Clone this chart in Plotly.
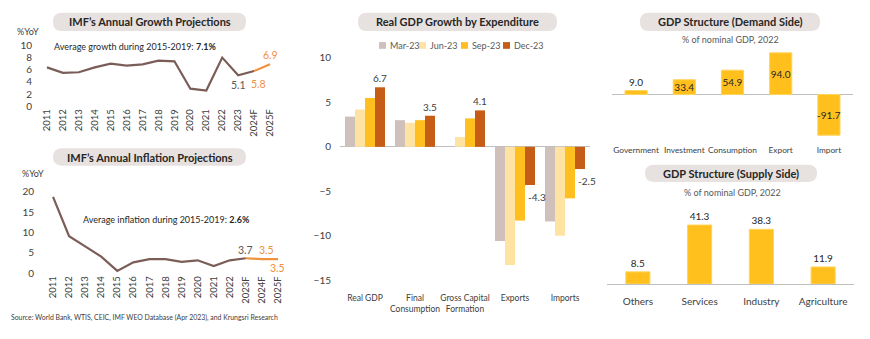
import plotly.graph_objects as go

W, H = 870, 339
FONT = "Lato"

# ---------------- data ----------------
years_g = ["2011", "2012", "2013", "2014", "2015", "2016", "2017", "2018", "2019",
           "2020", "2021", "2022", "2023", "2024F", "2025F"]
growth = [6.4, 5.5, 5.6, 6.4, 7.0, 6.7, 6.9, 7.5, 7.4, 2.9, 2.6, 8.0, 5.1, 5.8, 6.9]

years_i = ["2011", "2012", "2013", "2014", "2015", "2016", "2017", "2018", "2019",
           "2020", "2021", "2022", "2023F", "2024F", "2025F"]
inflation = [18.7, 9.1, 6.6, 4.1, 0.6, 2.7, 3.5, 3.5, 2.8, 3.2, 1.8, 3.2, 3.7, 3.5, 3.5]

exp_cats = ["Real GDP", "Final<br>Consumption", "Gross Capital<br>Formation", "Exports", "Imports"]
quarters = ["Mar-23", "Jun-23", "Sep-23", "Dec-23"]
mar23 = [3.4, 3.0, 0.0, -10.6, -8.4]
jun23 = [4.2, 2.7, 1.1, -13.3, -10.0]
sep23 = [5.5, 3.0, 3.2, -8.3, -5.8]
dec23 = [6.7, 3.5, 4.1, -4.3, -2.5]
q_colors = ["#CFC0BC", "#FFE3A3", "#FFBF1F", "#C65D17"]

demand_cats = ["Government", "Investment", "Consumption", "Export", "Import"]
demand_vals = [9.0, 33.4, 54.9, 94.0, -91.7]

supply_cats = ["Others", "Services", "Industry", "Agriculture"]
supply_vals = [8.5, 41.3, 38.3, 11.9]

BROWN = "#7B5D58"
ORANGE = "#F0913E"
YEL = "#FFC01E"
TXT = "#404040"


def px(x):
    return x / W


def py(y):
    return 1 - y / H


fig = go.Figure()

# ---- growth line ----
fig.add_trace(go.Scatter(x=years_g[:14], y=growth[:14], mode="lines",
                         line=dict(color=BROWN, width=2.2), xaxis="x", yaxis="y",
                         showlegend=False, hoverinfo="skip"))
fig.add_trace(go.Scatter(x=years_g[13:], y=growth[13:], mode="lines",
                         line=dict(color=ORANGE, width=2.2), xaxis="x", yaxis="y",
                         showlegend=False, hoverinfo="skip"))

# ---- inflation line ----
fig.add_trace(go.Scatter(x=years_i[:13], y=inflation[:13], mode="lines",
                         line=dict(color=BROWN, width=2.2), xaxis="x2", yaxis="y2",
                         showlegend=False, hoverinfo="skip"))
fig.add_trace(go.Scatter(x=years_i[12:], y=inflation[12:], mode="lines",
                         line=dict(color=ORANGE, width=2.2), xaxis="x2", yaxis="y2",
                         showlegend=False, hoverinfo="skip"))

# ---- expenditure bars ----
for qi, (name, vals) in enumerate(zip(quarters, [mar23, jun23, sep23, dec23])):
    kw = {}
    if name == "Dec-23":
        kw = dict(text=[f"{v:.1f}" if v > 0 else "" for v in vals],
                  textposition="outside", textangle=0,
                  textfont=dict(size=10, color=TXT, family=FONT),
                  cliponaxis=False, constraintext="none")
    fig.add_trace(go.Bar(x=exp_cats, y=vals, name=name, marker_color=q_colors[qi],
                         marker_line=dict(width=0), xaxis="x3", yaxis="y3",
                         showlegend=False, hoverinfo="skip", **kw))

# ---- demand bars ----
fig.add_trace(go.Bar(x=demand_cats, y=demand_vals, marker_color=YEL,
                     marker_line=dict(color="#FFD45A", width=1),
                     text=[f"{v:.1f}" for v in demand_vals],
                     textposition=["outside", "inside", "inside", "inside", "inside"],
                     insidetextanchor="middle", constraintext="none", cliponaxis=False,
                     textangle=0,
                     textfont=dict(size=10, color="#262626", family=FONT),
                     xaxis="x4", yaxis="y4", showlegend=False, hoverinfo="skip"))

# ---- supply bars ----
fig.add_trace(go.Bar(x=supply_cats, y=supply_vals, marker_color=YEL,
                     marker_line=dict(color="#FFD45A", width=1),
                     text=[f"{v:.1f}" for v in supply_vals], textposition="outside",
                     constraintext="none", cliponaxis=False, textangle=0,
                     textfont=dict(size=10, color="#262626", family=FONT),
                     xaxis="x5", yaxis="y5", showlegend=False, hoverinfo="skip"))

ax_common = dict(showgrid=False, zeroline=False, showline=False, ticks="",
                 tickfont=dict(size=10, color=TXT, family=FONT), fixedrange=True)


def tf(size):
    return dict(size=size, color=TXT, family=FONT)


layout = dict(
    width=W, height=H, margin=dict(l=0, r=0, t=0, b=0),
    paper_bgcolor="white", plot_bgcolor="white",
    font=dict(family=FONT, color=TXT),
    barmode="group",
    xaxis=dict(domain=[px(39), px(278)], anchor="y", type="category", tickangle=-90,
               range=[-0.5, len(years_g) - 0.5], **{**ax_common, "tickfont": tf(9.5)}),
    yaxis=dict(domain=[py(103.3), py(40)], anchor="x", range=[0, 10], dtick=2,
               ticklabelstandoff=6, **ax_common),
    xaxis2=dict(domain=[px(45), px(286)], anchor="y2", type="category", tickangle=-90,
                range=[-0.5, len(years_i) - 0.5], **{**ax_common, "tickfont": tf(9.5)}),
    yaxis2=dict(domain=[py(277), py(192)], anchor="x2", range=[0, 20], dtick=5,
                ticklabelstandoff=10, **ax_common),
    xaxis3=dict(domain=[px(340), px(590)], anchor="y3", type="category", tickangle=0,
                range=[-0.5, len(exp_cats) - 0.5], ticklabelstandoff=11,
                **{**ax_common, "tickfont": tf(8.5)}),
    yaxis3=dict(domain=[py(284), py(53)], anchor="x3", range=[-15, 10], dtick=5,
                ticklabelstandoff=8,
                **{**ax_common, "zeroline": True, "zerolinecolor": "#BFBFBF",
                   "zerolinewidth": 1.3}),
    xaxis4=dict(domain=[px(612), px(853)], anchor="y4", type="category", tickangle=0,
                range=[-0.5, len(demand_cats) - 0.5], ticklabelstandoff=6,
                **{**ax_common, "tickfont": tf(8.3)}),
    yaxis4=dict(domain=[py(136), py(44)], anchor="x4", range=[-97.6, 102],
                showticklabels=False,
                **{**ax_common, "zeroline": True, "zerolinecolor": "#BFBFBF",
                   "zerolinewidth": 1.3}),
    xaxis5=dict(domain=[px(607), px(854)], anchor="y5", type="category", tickangle=0,
                range=[-0.5, len(supply_cats) - 0.5], ticklabelstandoff=8,
                **{**ax_common, "showline": True, "linecolor": "#BFBFBF", "linewidth": 1.3,
                   "tickfont": tf(10)}),
    yaxis5=dict(domain=[py(288), py(200)], anchor="x5", range=[0, 59.3],
                showticklabels=False, **ax_common),
)
fig.update_layout(**layout)
fig.update_layout(bargap=0.2, bargroupgap=0)
fig.update_traces(selector=dict(xaxis="x4"), width=0.46)
fig.update_traces(selector=dict(xaxis="x5"), width=0.39)


# ---------------- decorations ----------------
def pill(x0, y0, x1, y1, r=9):
    d = (f"M {px(x0 + r)},{py(y0)} L {px(x1 - r)},{py(y0)} "
         f"Q {px(x1)},{py(y0)} {px(x1)},{py(y0 + r)} "
         f"L {px(x1)},{py(y1 - r)} Q {px(x1)},{py(y1)} {px(x1 - r)},{py(y1)} "
         f"L {px(x0 + r)},{py(y1)} Q {px(x0)},{py(y1)} {px(x0)},{py(y1 - r)} "
         f"L {px(x0)},{py(y0 + r)} Q {px(x0)},{py(y0)} {px(x0 + r)},{py(y0)} Z")
    return dict(type="path", path=d, xref="paper", yref="paper",
                fillcolor="#E7E1DF", line=dict(width=0), layer="below")


titles = [
    ("IMF’s Annual Growth Projections", 53, 6, 246, 25),
    ("IMF’s Annual Inflation Projections", 53, 147, 246, 165),
    ("Real GDP Growth by Expenditure", 358, 6, 557, 25),
    ("GDP Structure (Demand Side)", 640, 6, 820, 25),
    ("GDP Structure (Supply Side)", 645, 164, 817, 182),
]
shapes = []
annotations = []
for t, x0, y0, x1, y1 in titles:
    shapes.append(pill(x0, y0, x1, y1))
    annotations.append(dict(text=f"<b>{t}</b>", x=px((x0 + x1) / 2), y=py((y0 + y1) / 2),
                            xref="paper", yref="paper", showarrow=False,
                            xanchor="center", yanchor="middle",
                            font=dict(size=11, color="#262626", family=FONT)))


def ptext(text, x, y, size=9, color=TXT, xanchor="center"):
    annotations.append(dict(text=text, x=px(x), y=py(y), xref="paper", yref="paper",
                            showarrow=False, xanchor=xanchor, yanchor="middle",
                            font=dict(size=size, color=color, family=FONT)))


ptext("%YoY", 15, 25, size=9, xanchor="left")
ptext("%YoY", 20, 173, size=9, xanchor="left")
ptext("Average growth during 2015-2019: <b>7.1%</b>", 52, 41, size=9, color="#262626",
      xanchor="left")
ptext("Average inflation during 2015-2019: <b>2.6%</b>", 81, 221, size=9, color="#262626",
      xanchor="left")
ptext("% of nominal GDP, 2022", 730, 34, size=9, color="#595959")
ptext("% of nominal GDP, 2022", 732, 193, size=9, color="#595959")
ptext("Source: World Bank, WTIS, CEIC, IMF WEO Database (Apr 2023), and Krungsri Research",
      9, 323, size=6.9, color=TXT, xanchor="left")

# legend for expenditure chart
leg_x = [379, 419, 461, 503]
for xq, name, c in zip(leg_x, quarters, q_colors):
    shapes.append(dict(type="rect", xref="paper", yref="paper",
                       x0=px(xq), x1=px(xq + 7), y0=py(43.5), y1=py(36.5),
                       fillcolor=c, line=dict(width=0)))
    ptext(name, xq + 9, 40, size=9, color="#595959", xanchor="left")


def dlabel(xaxis, yaxis, x, y, text, color, yshift=0, xshift=0, size=10.5):
    annotations.append(dict(text=text, x=x, y=y, xref=xaxis, yref=yaxis, showarrow=False,
                            xanchor="center", yanchor="middle",
                            xshift=xshift, yshift=yshift,
                            font=dict(size=size, color=color, family=FONT)))


# growth labels (x given as category index)
dlabel("x", "y", 12, growth[12], f"{growth[12]:.1f}", "#595959", yshift=-10)
dlabel("x", "y", 13, growth[13], f"{growth[13]:.1f}", ORANGE, yshift=-13, xshift=4)
dlabel("x", "y", 14, growth[14], f"{growth[14]:.1f}", ORANGE, yshift=9)
# inflation labels
dlabel("x2", "y2", 12, inflation[12], f"{inflation[12]:.1f}", "#595959", yshift=8)
dlabel("x2", "y2", 13, inflation[13], f"{inflation[13]:.1f}", ORANGE, yshift=9, xshift=5)
dlabel("x2", "y2", 14, inflation[14], f"{inflation[14]:.1f}", ORANGE, yshift=-9)
# negative Dec-23 labels
for i, v in enumerate(dec23):
    if v < 0:
        dlabel("x3", "y3", i, v, f"{v:.1f}", TXT, yshift=-12, xshift=22, size=10)

fig.update_layout(shapes=shapes, annotations=annotations)
fig.write_html("out.html")
